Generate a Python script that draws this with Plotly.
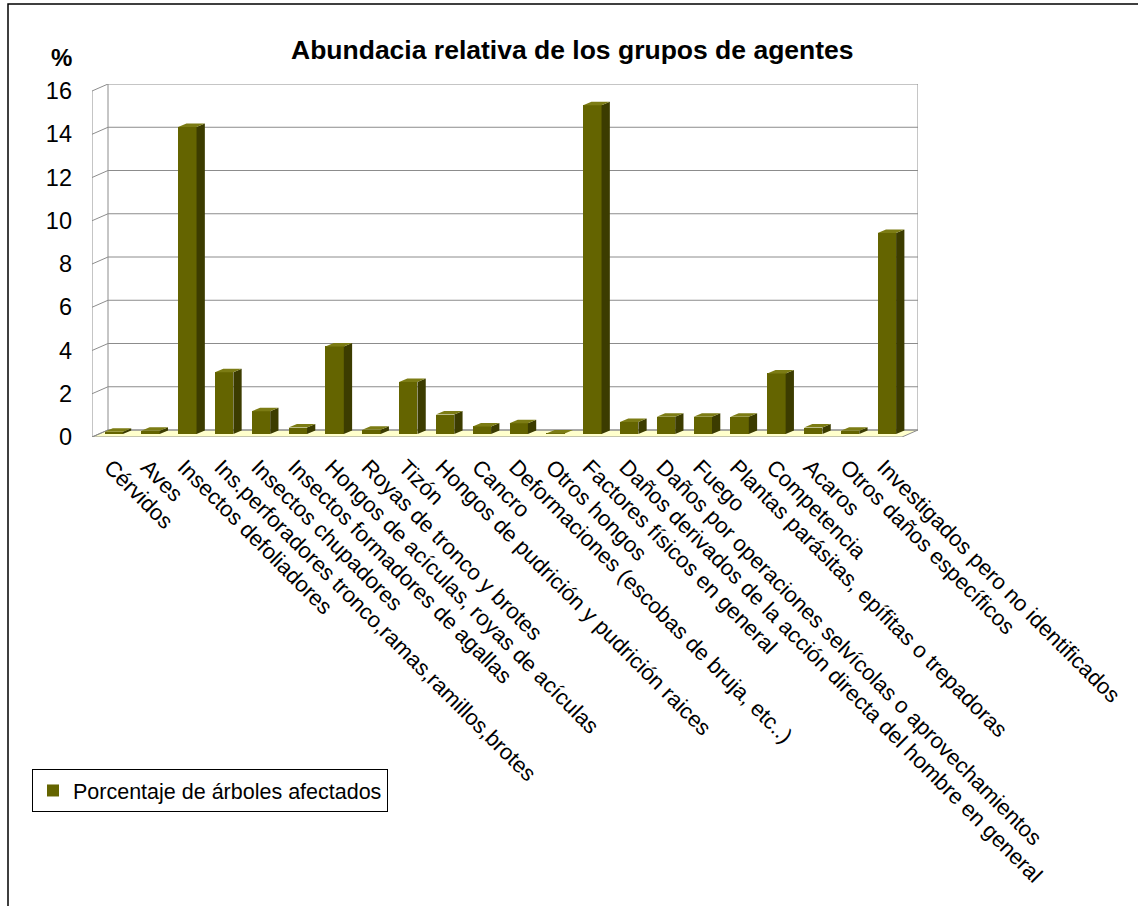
import plotly.graph_objects as go

categories = [
    "Cérvidos",
    "Aves",
    "Insectos defoliadores",
    "Ins.perforadores tronco,ramas,ramillos,brotes",
    "Insectos chupadores",
    "Insectos formadores de agallas",
    "Hongos de acículas, royas de acículas",
    "Royas de tronco y brotes",
    "Tizón",
    "Hongos de pudrición y pudrición raices",
    "Cancro",
    "Deformaciones (escobas de bruja, etc..)",
    "Otros hongos",
    "Factores físicos en general",
    "Daños derivados de la acción directa del hombre en general",
    "Daños por operaciones selvícolas o aprovechamientos",
    "Fuego",
    "Plantas parásitas, epífitas o trepadoras",
    "Competencia",
    "Acaros",
    "Otros daños específicos",
    "Investigados pero no identificados",
]
values = [0.1, 0.15, 14.2, 2.85, 1.05, 0.3, 4.05, 0.2, 2.4, 0.9, 0.35, 0.5,
          0.02, 15.2, 0.55, 0.8, 0.8, 0.8, 2.8, 0.3, 0.15, 9.3]
y_ticks = [0, 2, 4, 6, 8, 10, 12, 14, 16]
series_name = "Porcentaje de árboles afectados"
title_text = "Abundacia relativa de los grupos de agentes"

# ---- layout geometry (pixels) ----
W, H = 1138, 906
L, R, T, B = 92, 918, 84, 437
n = len(categories)
pxu = 810 / n          # px per category on front plane
pyu = 21.625           # px per unit value
Dx, Dy = 16 / pxu, 7 / pyu          # depth of floor/wall
bw = 18.4 / pxu                      # bar front width
fx, fy = 3.3 / pxu, 3 / pyu          # bar front-face offset
sx, sy = 8.3 / pxu, 3.5 / pyu        # bar depth

FRONT = "#646400"
SIDE = "#3C3C00"
TOP = "#7C7C14"
GRID = "#8C8C8C"
FONT = "Liberation Sans, Arial, sans-serif"

def px_x(p):
    return (p - L) / (R - L)

def px_y(p):
    return (B - p) / (B - T)

fig = go.Figure()

fig.add_trace(go.Bar(
    x=list(range(n)), y=values, base=fy, width=bw, offset=-bw / 2 + fx,
    marker=dict(color=FRONT, line=dict(width=0)), name=series_name,
    showlegend=True,
))

side_x, side_y, top_x, top_y = [], [], [], []
for i, v in enumerate(values):
    xl = i - bw / 2 + fx
    xr_ = xl + bw
    side_x += [xr_, xr_ + sx, xr_ + sx, xr_, xr_, None]
    side_y += [fy, fy + sy, fy + v + sy, fy + v, fy, None]
    top_x += [xl, xr_, xr_ + sx, xl + sx, xl, None]
    top_y += [fy + v, fy + v, fy + v + sy, fy + v + sy, fy + v, None]

fig.add_trace(go.Scatter(x=side_x, y=side_y, fill="toself", fillcolor=SIDE,
                         mode="lines", line=dict(width=0), showlegend=False,
                         hoverinfo="skip"))
fig.add_trace(go.Scatter(x=top_x, y=top_y, fill="toself", fillcolor=TOP,
                         mode="lines", line=dict(width=0), showlegend=False,
                         hoverinfo="skip"))

shapes = []
x0w, x1w = -0.5 + Dx, n - 0.5 + Dx
# floor
shapes.append(dict(type="path", xref="x", yref="y", layer="below",
                   path=f"M {-0.5} 0 L {n-0.5} 0 L {x1w} {Dy} L {x0w} {Dy} Z",
                   fillcolor="#FFFFCC", line=dict(color=GRID, width=1)))
# wall gridlines and side-wall diagonals
for v in y_ticks:
    shapes.append(dict(type="line", xref="x", yref="y", layer="below",
                       x0=x0w, x1=x1w, y0=v + Dy, y1=v + Dy,
                       line=dict(color=GRID, width=1)))
    shapes.append(dict(type="line", xref="x", yref="y", layer="below",
                       x0=-0.5, x1=x0w, y0=v, y1=v + Dy,
                       line=dict(color=GRID, width=1)))
# wall verticals
for xx in (x0w, x1w):
    shapes.append(dict(type="line", xref="x", yref="y", layer="below",
                       x0=xx, x1=xx, y0=Dy, y1=y_ticks[-1] + Dy,
                       line=dict(color=GRID, width=1)))
# front value axis line
shapes.append(dict(type="line", xref="x", yref="y", layer="below",
                   x0=-0.5, x1=-0.5, y0=0, y1=y_ticks[-1],
                   line=dict(color=GRID, width=1)))
# outer chart border
shapes.append(dict(type="rect", xref="paper", yref="paper", layer="above",
                   x0=px_x(8), x1=px_x(1145), y0=px_y(912), y1=px_y(4),
                   line=dict(color="black", width=1.5)))

annotations = [
    dict(text=f"<b>{title_text}</b>", xref="paper", yref="paper",
         x=px_x(572), y=px_y(50), xanchor="center", yanchor="middle",
         showarrow=False, font=dict(family=FONT, size=26.5, color="black")),
    dict(text="<b>%</b>", xref="paper", yref="paper",
         x=px_x(61), y=px_y(57), xanchor="center", yanchor="middle",
         showarrow=False, font=dict(family=FONT, size=24, color="black")),
]

fig.update_layout(
    width=W, height=H,
    margin=dict(l=L, r=W - R, t=T, b=H - B, pad=0),
    paper_bgcolor="white", plot_bgcolor="rgba(0,0,0,0)",
    font=dict(family=FONT, size=21, color="black"),
    shapes=shapes, annotations=annotations,
    bargap=0,
    showlegend=True,
    legend=dict(x=px_x(32), y=px_y(769), xanchor="left", yanchor="top",
                bordercolor="black", borderwidth=1, bgcolor="white",
                font=dict(family=FONT, size=21.5, color="black"),
                itemwidth=30, tracegroupgap=0,
                itemsizing="constant"),
)
fig.update_xaxes(range=[-0.5, n - 0.5 + Dx], tickmode="array",
                 tickvals=list(range(n)), ticktext=categories, tickangle=45,
                 showgrid=False, zeroline=False, showline=False, ticks="",
                 ticklabelstandoff=12,
                 tickfont=dict(family=FONT, size=22, color="black"),
                 fixedrange=True)
fig.update_yaxes(range=[0, (B - T) / pyu], tickmode="array",
                 tickvals=y_ticks, ticktext=[str(v) for v in y_ticks],
                 showgrid=False, zeroline=False, showline=False, ticks="",
                 ticklabelstandoff=19,
                 tickfont=dict(family=FONT, size=23.5, color="black"),
                 fixedrange=True)

fig.write_html("out.html")
